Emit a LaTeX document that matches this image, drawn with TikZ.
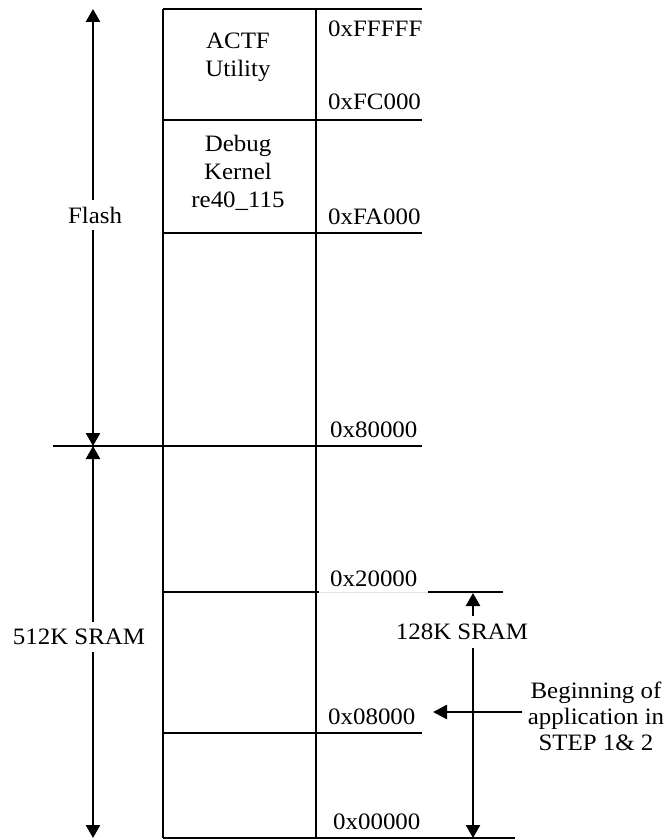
\documentclass[tikz,border=0pt]{standalone}
\usepackage{fontspec}
\setmainfont[FakeStretch=1.06]{Liberation Serif}
\usetikzlibrary{arrows.meta}
\tikzset{
  lbl/.style={font=\fontsize{23.5}{28}\selectfont, inner sep=1pt, align=center},
  cut/.style={lbl, fill=white, inner xsep=0pt, inner ysep=7pt},
  addr/.style={font=\fontsize{23.5}{28}\selectfont, inner sep=0pt, anchor=base west},
  hline/.style={line width=2pt},
  vline/.style={line width=2.5pt},
  tip/.style={},
  arr/.style={line width=2.5pt, -{Triangle[length=14pt,width=14pt]}},
  darr/.style={line width=2.5pt, {Triangle[length=13pt,width=14pt]}-{Triangle[length=13pt,width=14pt]}},
}
\begin{document}
\begin{tikzpicture}[x=1pt,y=-1pt]
\useasboundingbox (0,0) rectangle (667,840);
% box corners
\coordinate (tl) at (163,9);
\coordinate (tr) at (316,9);
\coordinate (bl) at (163,838);
\coordinate (br) at (316,838);
% horizontal line ends
\coordinate (t0) at (422,9);
\coordinate (a1) at (163,120); \coordinate (b1) at (422,120);
\coordinate (a2) at (163,233); \coordinate (b2) at (422,233);
\coordinate (a3) at (53,446);  \coordinate (b3) at (422,446);
\coordinate (a4) at (163,592); \coordinate (b4) at (319,592);
\coordinate (c4) at (428,592); \coordinate (d4) at (503,592);
\coordinate (a5) at (163,733); \coordinate (b5) at (422,733);
\coordinate (b6) at (515,838);
% box
\draw[vline] (tl) -- (bl);
\draw[vline] (tr) -- (br);
\draw[hline] (tl) -- (t0);
\draw[hline] (a1) -- (b1);
\draw[hline] (a2) -- (b2);
\draw[hline] (a3) -- (b3);
\draw[hline] (a4) -- (b4);
\draw[line width=0.8pt, gray!20] (b4) -- (c4);
\draw[hline] (c4) -- (d4);
\draw[hline] (a5) -- (b5);
\draw[hline] (bl) -- (b6);
% region labels
\node[lbl] (actf) at (238,57) {ACTF\\Utility};
\node[lbl] (dbg) at (238,173) {Debug\\Kernel\\re40\_115};
% addresses
\node[addr] (aF) at (328,37) {0xFFFFF};
\node[addr] (aFC) at (328,110) {0xFC000};
\node[addr] (aFA) at (328,224) {0xFA000};
\node[addr] (a80) at (330,437) {0x80000};
\node[addr] (a20) at (330,586) {0x20000};
\node[addr] (a08) at (328,724) {0x08000};
\node[addr] (a00) at (333,829) {0x00000};
% left arrows
\coordinate (flt) at (93,9);
\coordinate (flb) at (93,446);
\coordinate (srb) at (93,838);
\draw[darr] (flt) -- (flb);
\draw[darr] (flb) -- (srb);
\node[cut] (flash) at (95,215) {Flash};
\node[cut] (sram) at (79,637) {512K SRAM};
% right arrows
\coordinate (rt) at (473,593);
\coordinate (rb) at (473,838);
\draw[darr] (rt) -- (rb);
\node[cut, inner ysep=8pt] (ksram) at (462,632) {128K SRAM};
% application start
\node[lbl, font=\fontsize{23.5}{26}\selectfont] (begin) at (596,716) {Beginning of\\application in\\STEP 1\& 2};
\coordinate (hs) at (522,712);
\coordinate (ht) at (433,712);
\draw[arr] (hs) -- (ht);
\end{tikzpicture}
\end{document}
